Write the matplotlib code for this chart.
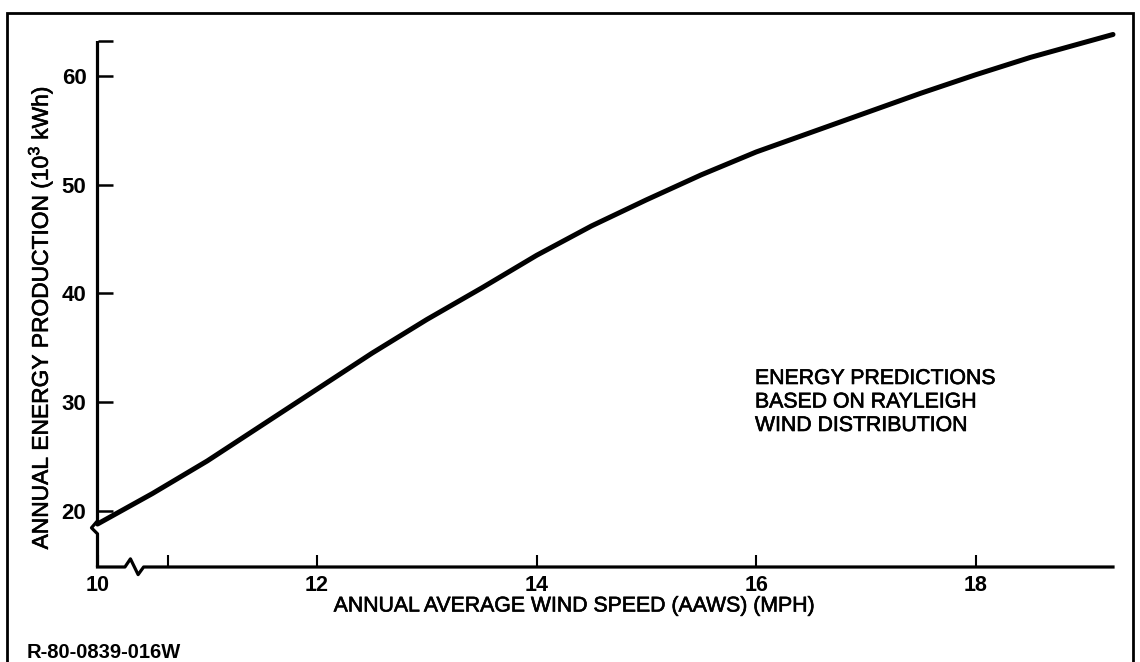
import matplotlib
matplotlib.use("Agg")
import matplotlib.pyplot as plt
import matplotlib.patheffects as pe
from matplotlib.patches import Rectangle

plt.rcParams['font.family'] = ['Liberation Sans', 'DejaVu Sans']

# Annual average wind speed (mph) and predicted annual energy (10^3 kWh)
wind_speed = [10.0, 10.5, 11.0, 11.5, 12.0, 12.5, 13.0, 13.5, 14.0, 14.5,
              15.0, 15.5, 16.0, 16.5, 17.0, 17.5, 18.0, 18.5, 19.0, 19.25]
energy = [18.8, 21.6, 24.6, 27.9, 31.2, 34.5, 37.6, 40.5, 43.5, 46.2,
          48.6, 50.9, 53.0, 54.8, 56.6, 58.4, 60.1, 61.7, 63.1, 63.8]

x_ticks = [10, 12, 14, 16, 18]
x_tick_labels = ["10", "12", "14", "16", "18"]
y_ticks = [20, 30, 40, 50, 60]
y_tick_labels = ["20", "30", "40", "50", "60"]

x_min, x_max = 10.0, 19.25
y_min, y_max = 14.85, 63.2

W, H = 1140, 662
fig = plt.figure(figsize=(W / 100, H / 100), dpi=100)
ax = fig.add_axes([97.5 / W, 1 - 567 / H, (1113 - 97.5) / W, (567 - 41) / H])
ax.set_xlim(x_min, x_max)
ax.set_ylim(y_min, y_max)

for s in ax.spines.values():
    s.set_visible(False)

# axis lines with break symbols
lw_axis = 2.3
ax.plot([x_min, x_min, x_min - 0.055, x_min, x_min],
        [y_max, 19.1, 18.45, 17.9, y_min],
        color='black', lw=lw_axis, clip_on=False, solid_joinstyle='round',
        solid_capstyle='butt')
ax.plot([x_min, 10.25, 10.30, 10.37, 10.42, x_max],
        [y_min, y_min, 15.6, 14.15, y_min, y_min],
        color='black', lw=lw_axis, clip_on=False, solid_joinstyle='round')

# energy curve
ax.plot(wind_speed, energy, color='black', lw=3.6, solid_capstyle='round',
        clip_on=False)

ax.set_xticks(x_ticks)
ax.set_xticklabels(x_tick_labels)
ax.set_xticks([10.64], minor=True)
ax.set_yticks(y_ticks)
ax.set_yticklabels(y_tick_labels)
ax.set_yticks([y_max], minor=True)

ax.tick_params(axis='x', which='both', direction='in', length=9, width=1.5,
               pad=6, labelsize=15.5, top=False)
ax.tick_params(axis='y', which='both', direction='in', length=11, width=1.8,
               pad=8, labelsize=16, right=False)
for lab in ax.get_xticklabels() + ax.get_yticklabels():
    lab.set_fontweight('bold')

# slightly heavier strokes for the plain-weight lettering
heavy = [pe.withStroke(linewidth=0.45, foreground='black')]

fig.text(574 / W, 1 - 606 / H, "ANNUAL AVERAGE WIND SPEED (AAWS) (MPH)",
         ha='center', va='center', fontsize=15.3, path_effects=heavy)
fig.text(40 / W, 1 - 318 / H, r"ANNUAL ENERGY PRODUCTION (10$^{\mathregular{3}}$ kWh)",
         ha='center', va='center', rotation=90, fontsize=16.4, path_effects=heavy)

fig.text(755 / W, 1 - 369 / H,
         "ENERGY PREDICTIONS\nBASED ON RAYLEIGH\nWIND DISTRIBUTION",
         ha='left', va='top', fontsize=15.3, linespacing=1.3, path_effects=heavy)

fig.text(27 / W, 1 - 652 / H, "R-80-0839-016W", ha='left', va='center',
         fontsize=14.5, fontweight='bold')

fig.patches.append(Rectangle((7 / W, -0.02), (1133 - 7) / W, 1 - 13 / H + 0.02,
                             transform=fig.transFigure, fill=False,
                             edgecolor='black', lw=2.0))

fig.savefig("out.png", dpi=100)
